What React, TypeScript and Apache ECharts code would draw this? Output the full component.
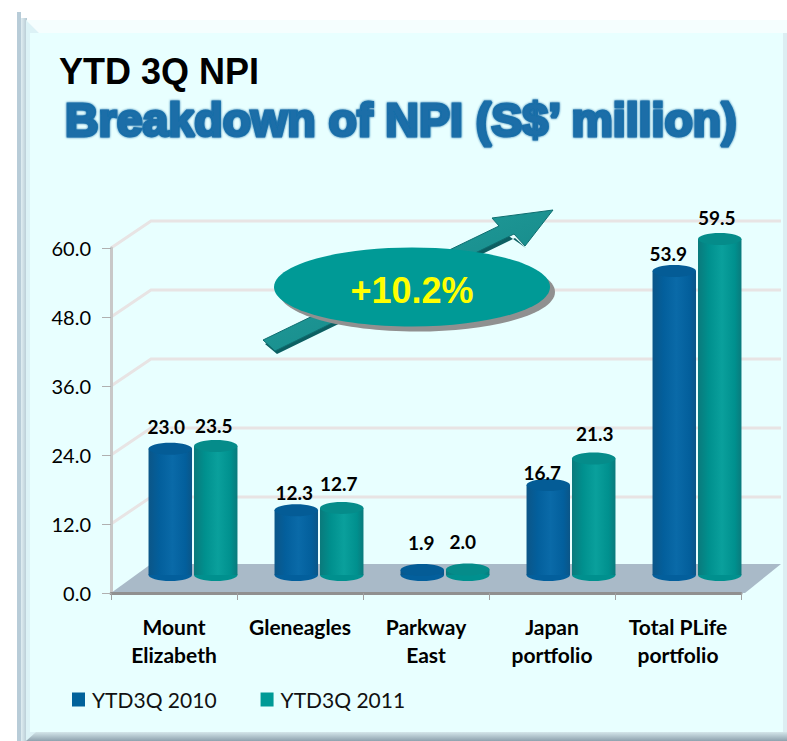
import React, { useEffect, useRef } from "react";
import * as echarts from "echarts";

const categories = ["Mount\nElizabeth", "Gleneagles", "Parkway\nEast", "Japan\nportfolio", "Total PLife\nportfolio"];
const values2010 = [23.0, 12.3, 1.9, 16.7, 53.9];
const values2011 = [23.5, 12.7, 2.0, 21.3, 59.5];
const yTicks = [12, 24, 36, 48, 60];
const seriesNames = ["YTD3Q 2010", "YTD3Q 2011"];
const titleLine1 = "YTD 3Q NPI";
const titleLine2 = "Breakdown of NPI (S$’ million)";
const changeLabel = "+10.2%";

// Layout of the pseudo-3D picture (not data)
const DEPTH_X = 40;
const DEPTH_Y = 27;
const TOP_LIFT = 12;
const BASE_LIFT = 18;
const BAR_SHIFT = 19;
const CAP_RY = 6;
const labelNudge2010 = [[-4, -22], [-2, -18], [-1, -28], [-6, -12], [-6, -18]];
const labelNudge2011 = [[-2, -20], [-3, -24], [-5, -28], [1, -25], [-3, -21]];

function cylinder(side: number, edge: string, mid: string, light: string, cap: string, nudges: number[][]) {
  return (params: any, api: any) => {
    const i = api.value(0);
    const v = api.value(1);
    const base = api.coord([i, 0]);
    const top = api.coord([i, v]);
    const band = api.size([1, 0])[0];
    const w = band * 0.345;
    const cx = base[0] + BAR_SHIFT + (side * w) / 2 + side;
    const yb = base[1] - BASE_LIFT;
    const yt = top[1] - TOP_LIFT;
    const fill = new echarts.graphic.LinearGradient(0, 0, 1, 0, [
      { offset: 0, color: edge },
      { offset: 0.25, color: mid },
      { offset: 0.55, color: light },
      { offset: 0.85, color: mid },
      { offset: 1, color: edge },
    ]);
    const n = nudges[params.dataIndex];
    return {
      type: "group",
      children: [
        { type: "ellipse", shape: { cx, cy: yb, rx: w / 2, ry: CAP_RY }, style: { fill: mid } },
        { type: "rect", shape: { x: cx - w / 2, y: yt, width: w, height: Math.max(yb - yt, 0) }, style: { fill } },
        { type: "ellipse", shape: { cx, cy: yt, rx: w / 2, ry: CAP_RY }, style: { fill: cap } },
        {
          type: "text",
          x: cx + n[0],
          y: yt + n[1],
          style: {
            text: v.toFixed(1),
            fill: "#000",
            font: "bold 19px Lato",
            align: "center",
            verticalAlign: "middle",
          },
        },
      ],
    };
  };
}

function App() {
  const ref = useRef<HTMLDivElement>(null);
  useEffect(() => {
    const chart = echarts.init(ref.current!, null, { renderer: "svg" });
    const grid = { left: 111, right: 46, top: 248, bottom: 148 };
    chart.setOption({
      animation: false,
      backgroundColor: "#ffffff",
      title: [
        {
          text: titleLine1,
          left: 59,
          top: 53,
          padding: 0,
          textStyle: { fontFamily: "Liberation Sans", fontWeight: "bold", fontSize: 36, color: "#000" },
        },
        {
          text: titleLine2,
          left: 65,
          top: 96,
          padding: 0,
          textStyle: {
            fontFamily: "Liberation Sans",
            fontWeight: "bold",
            fontSize: 46.5,
            color: "#1a6ea8",
            textBorderColor: "#1a6ea8",
            textBorderWidth: 3,
            textShadowColor: "#1a6ea8",
            textShadowBlur: 2,
          },
        },
      ],
      legend: {
        data: seriesNames,
        left: 72,
        top: 689,
        padding: 0,
        itemWidth: 13,
        itemHeight: 14,
        itemGap: 44,
        icon: "rect",
        textStyle: { fontFamily: "Lato", fontSize: 21, color: "#111", padding: [0, 0, 0, 2] },
      },
      grid,
      xAxis: {
        type: "category",
        data: categories,
        z: 3,
        axisLine: { lineStyle: { color: "#909090", width: 3 } },
        axisTick: { show: true, alignWithLabel: false, length: 7, lineStyle: { color: "#a0a0a0", width: 1 } },
        axisLabel: {
          fontFamily: "Lato",
          fontWeight: "bold",
          fontSize: 21,
          lineHeight: 28,
          color: "#000",
          margin: 19,
          interval: 0,
        },
      },
      yAxis: {
        type: "value",
        min: 0,
        max: 60,
        interval: 12,
        z: 3,
        axisLine: { show: true, lineStyle: { color: "#c8c8c8", width: 3 } },
        axisTick: { show: true, length: 9, lineStyle: { color: "#b0b0b0", width: 1 } },
        splitLine: { show: false },
        axisLabel: {
          fontFamily: "Lato",
          fontSize: 20,
          color: "#000",
          margin: 20,
          formatter: (v: number) => v.toFixed(1),
        },
      },
      series: [
        {
          type: "custom",
          name: "wall",
          silent: true,
          z: 1,
          data: yTicks.map((t) => [0, t]),
          encode: { x: 0, y: 1 },
          renderItem: (params: any, api: any) => {
            const y = api.coord([0, api.value(1)])[1];
            const cs = params.coordSys;
            const x0 = cs.x;
            const x1 = cs.x + cs.width;
            return {
              type: "polyline",
              shape: { points: [[x0, y], [x0 + DEPTH_X, y - DEPTH_Y], [x1 + DEPTH_X, y - DEPTH_Y]] },
              style: { stroke: "#e8e4e4", lineWidth: 3, fill: "none" },
            };
          },
        },
        {
          type: "custom",
          name: "floor",
          silent: true,
          z: 1,
          data: [[0, 0]],
          encode: { x: 0, y: 1 },
          renderItem: (params: any, api: any) => {
            const y = api.coord([0, 0])[1];
            const cs = params.coordSys;
            const x0 = cs.x;
            const x1 = cs.x + cs.width;
            return {
              type: "polygon",
              shape: { points: [[x0, y], [x0 + DEPTH_X, y - DEPTH_Y - 2], [x1 + DEPTH_X, y - DEPTH_Y - 2], [x1 + 4, y]] },
              style: { fill: "#a9bac8" },
            };
          },
        },
        {
          type: "custom",
          name: seriesNames[0],
          z: 4,
          itemStyle: { color: "#00629b" },
          data: values2010.map((v, i) => [i, v]),
          encode: { x: 0, y: 1 },
          renderItem: cylinder(-1, "#0b5688", "#035f9c", "#0a6aa8", "#045c96", labelNudge2010),
        },
        {
          type: "custom",
          name: seriesNames[1],
          z: 4,
          itemStyle: { color: "#009a96" },
          data: values2011.map((v, i) => [i, v]),
          encode: { x: 0, y: 1 },
          renderItem: cylinder(1, "#0a7a7c", "#00908e", "#0aa09c", "#058c8a", labelNudge2011),
        },
      ],
      graphic: [
        { type: "rect", z: -10, silent: true, shape: { x: 17, y: 12, width: 4, height: 729 }, style: { fill: "#b8ccd8" } },
        {
          type: "rect",
          z: -10,
          silent: true,
          shape: { x: 21, y: 18, width: 6, height: 723 },
          style: {
            fill: new echarts.graphic.LinearGradient(0, 0, 1, 0, [
              { offset: 0, color: "#e0eef2" },
              { offset: 1, color: "#b4c8d2" },
            ]),
          },
        },
        {
          type: "polygon",
          z: -8,
          silent: true,
          shape: { points: [[26, 20], [787, 20], [787, 33], [39, 33]] },
          style: { fill: "#f5fefe" },
        },
        {
          type: "polygon",
          z: -8,
          silent: true,
          shape: { points: [[26, 20], [39, 33], [39, 732], [26, 741]] },
          style: { fill: "#dcf2f6" },
        },
        {
          type: "rect",
          z: -7,
          silent: true,
          shape: { x: 30, y: 33, width: 757, height: 699 },
          style: { fill: "#e8ffff" },
        },
        {
          type: "rect",
          z: -7,
          silent: true,
          shape: { x: 783, y: 33, width: 4, height: 699 },
          style: { fill: "#dceef2" },
        },
        {
          type: "polygon",
          z: -6,
          silent: true,
          shape: { points: [[26, 741], [787, 741], [787, 732], [36, 732]] },
          style: {
            fill: new echarts.graphic.LinearGradient(0, 0, 0, 1, [
              { offset: 0, color: "#d4e6ea" },
              { offset: 1, color: "#8ea2ae" },
            ]),
          },
        },
        {
          type: "polygon",
          z: 9,
          silent: true,
          shape: { points: [[265, 344], [500, 230], [526, 248], [515, 238], [277, 354]] },
          style: { fill: "#0c5f62" },
        },
        {
          type: "polygon",
          z: 10,
          silent: true,
          shape: { points: [[263, 340], [499, 226], [492, 218], [553, 210], [525, 246], [514, 234], [275, 351]] },
          style: {
            fill: new echarts.graphic.LinearGradient(0, 0, 1, 1, [
              { offset: 0, color: "#25a5a2" },
              { offset: 1, color: "#117f80" },
            ]),
            stroke: "#0f6e70",
            lineWidth: 1,
          },
        },
        {
          type: "ellipse",
          z: 11,
          silent: true,
          shape: { cx: 417, cy: 292, rx: 138, ry: 39.5 },
          style: { fill: "#909090" },
        },
        {
          type: "ellipse",
          z: 12,
          silent: true,
          shape: { cx: 412, cy: 287, rx: 138, ry: 39.5 },
          style: { fill: "#009a96" },
        },
        {
          type: "text",
          z: 13,
          silent: true,
          x: 412,
          y: 290,
          style: {
            text: changeLabel,
            fill: "#ffff00",
            font: "bold 36px Liberation Sans",
            align: "center",
            verticalAlign: "middle",
          },
        },
      ],
    });
    return () => chart.dispose();
  }, []);
  return <div ref={ref} style={{ position: "fixed", left: 0, top: 0, width: 787, height: 741 }} />;
}

export default App;
